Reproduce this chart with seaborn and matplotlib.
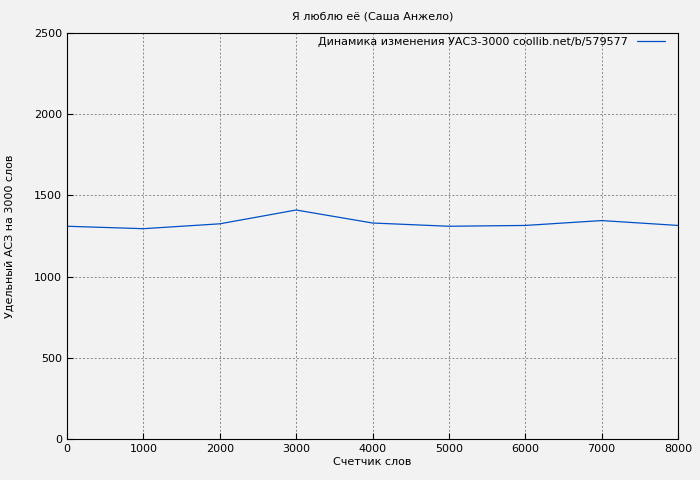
import matplotlib
matplotlib.use("Agg")
import matplotlib.pyplot as plt
import seaborn as sns
import pandas as pd

words = [0, 1000, 2000, 3000, 4000, 5000, 6000, 7000, 8000]
values = [1310, 1295, 1325, 1410, 1330, 1310, 1315, 1345, 1315]
xticks = [0, 1000, 2000, 3000, 4000, 5000, 6000, 7000, 8000]
yticks = [0, 500, 1000, 1500, 2000, 2500]

sns.set_style("ticks")
plt.rcParams['font.family'] = ['DejaVu Sans']
plt.rcParams['text.color'] = 'black'
plt.rcParams['axes.labelcolor'] = 'black'
plt.rcParams['xtick.color'] = 'black'
plt.rcParams['ytick.color'] = 'black'
df = pd.DataFrame({"x": words, "y": values})
fig = plt.figure(figsize=(7, 4.8), dpi=100, facecolor="#f2f2f2")
ax = fig.add_axes([67/700, 41/480, 611/700, 406/480])
ax.set_facecolor("#f2f2f2")
sns.lineplot(data=df, x="x", y="y", ax=ax, color="#0050c8", linewidth=0.9,
             label="Динамика изменения УАСЗ-3000 coollib.net/b/579577")
ax.set_xlim(0, 8000)
ax.set_ylim(0, 2500)
ax.set_xticks(xticks)
ax.set_yticks(yticks)
ax.grid(True, color="#888888", linestyle=(0, (2, 2)), linewidth=0.7)
for s in ax.spines.values():
    s.set_color("black")
ax.tick_params(labelsize=8, direction="in", length=4)
ax.set_xlabel("Счетчик слов", fontsize=8, labelpad=2)
ax.set_ylabel("Удельный АСЗ на 3000 слов", fontsize=8, labelpad=14)
ax.set_title("Я люблю её (Саша Анжело)", fontsize=8, pad=10)
leg = ax.legend(loc="upper right", fontsize=8, frameon=False, markerfirst=False,
                handlelength=2.5, bbox_to_anchor=(0.995, 1.015))
fig.savefig("out.png", dpi=100, facecolor=fig.get_facecolor())
